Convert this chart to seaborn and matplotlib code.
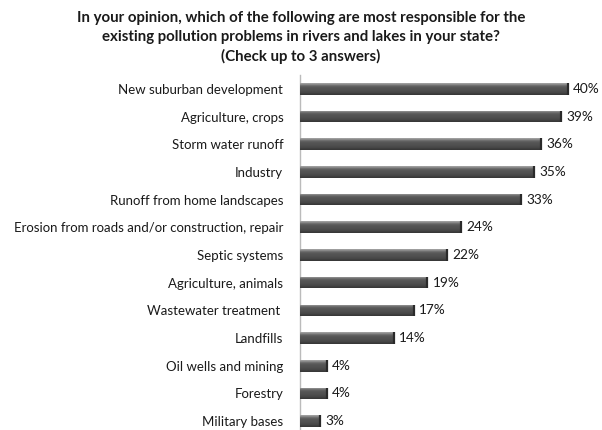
import numpy as np
import pandas as pd
import matplotlib
matplotlib.use("Agg")
import matplotlib.pyplot as plt
import seaborn as sns

categories = [
    "New suburban development",
    "Agriculture, crops",
    "Storm water runoff",
    "Industry",
    "Runoff from home landscapes",
    "Erosion from roads and/or construction, repair",
    "Septic systems",
    "Agriculture, animals",
    "Wastewater treatment ",
    "Landfills",
    "Oil wells and mining",
    "Forestry",
    "Military bases",
]
values = [40, 39, 36, 35, 33, 24, 22, 19, 17, 14, 4, 4, 3]
value_labels = ["40%", "39%", "36%", "35%", "33%", "24%", "22%", "19%", "17%", "14%", "4%", "4%", "3%"]

title = ("In your opinion, which of the following are most responsible for the\n"
         "existing pollution problems in rivers and lakes in your state?\n"
         "(Check up to 3 answers)")

sns.set_theme(style="white")
plt.rcParams['font.family'] = ['Lato', 'DejaVu Sans']

df = pd.DataFrame({"category": categories, "value": values})

fig = plt.figure(figsize=(6.02, 4.30), dpi=100)
ax = fig.add_axes([300/602, 0.0, 300/602, (430-75)/430])

sns.barplot(data=df, x="value", y="category", orient="h", ax=ax,
            color="#555555", width=0.42, edgecolor="none", linewidth=0)

# gradient shading for a 3D look
grad = np.array([0.62, 0.45, 0.36, 0.33, 0.32, 0.30, 0.27, 0.22]).reshape(-1, 1)
for p in ax.patches:
    x0, y0 = p.get_x(), p.get_y()
    w, h = p.get_width(), p.get_height()
    im = ax.imshow(grad, cmap="gray", vmin=0, vmax=1, aspect="auto",
                   extent=[x0, x0 + w, y0 + h, y0], zorder=3, interpolation="bilinear")
    im.set_clip_path(p)
    ax.plot([x0 + w, x0 + w], [y0, y0 + h], color="#2a2a2a", lw=1.6, zorder=4,
            solid_capstyle="butt")

for i, (v, lab) in enumerate(zip(values, value_labels)):
    ax.text(v + 0.8, i, lab, va="center", ha="left", fontsize=9.8, color="#1a1a1a")

ax.set_xlim(0, 44.8)
ax.set_ylim(12.32, -0.5)
ax.set_xlabel("")
ax.set_ylabel("")
ax.set_xticks([])
ax.tick_params(axis="y", length=0, pad=12, labelsize=9.5, labelcolor="#1a1a1a")
for s in ["top", "right", "bottom"]:
    ax.spines[s].set_visible(False)
ax.spines["left"].set_color("#bbbbbb")
ax.spines["left"].set_linewidth(1.0)

fig.text(0.5, 0.975, title, ha="center", va="top", fontsize=10.8,
         fontweight="bold", color="#1a1a1a", linespacing=1.45)

fig.savefig("out.png", dpi=100)
